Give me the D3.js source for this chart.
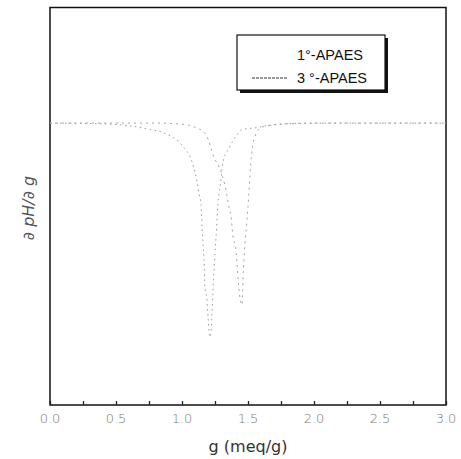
<!DOCTYPE html>
<html><head><meta charset="utf-8">
<script src="https://cdn.jsdelivr.net/npm/d3@7"></script>
<style>body{margin:0;background:#fff}svg{display:block}</style>
</head><body>
<svg id="c" width="461" height="459"></svg>
<script>
// g (meq/g)
const g1 = [0,0.25,0.5,0.76,0.86,1.01,1.06,1.098,1.114,1.129,1.144,1.152,1.159,1.167,1.174,1.189,1.197,1.212,1.22,1.227,1.235,1.242,1.25,1.258,1.265,1.273,1.28,1.295,1.303,1.326,1.341,1.379,1.417,1.455,1.568,1.644,1.87,2.2,3.0];
const d1 = [0,-0.001,-0.005,-0.023,-0.034,-0.084,-0.119,-0.173,-0.208,-0.249,-0.29,-0.368,-0.425,-0.485,-0.581,-0.627,-0.688,-0.759,-0.74,-0.68,-0.592,-0.531,-0.46,-0.404,-0.344,-0.283,-0.254,-0.2,-0.163,-0.112,-0.101,-0.069,-0.041,-0.023,-0.016,-0.009,-0.001,0,0];
const g2 = [0,0.8,1.0,1.1,1.18,1.25,1.265,1.341,1.356,1.371,1.386,1.409,1.417,1.432,1.447,1.455,1.462,1.477,1.485,1.5,1.52,1.55,1.6,1.75,2.0,3.0];
const d2 = [0,0,-0.004,-0.015,-0.04,-0.13,-0.141,-0.258,-0.3,-0.33,-0.4,-0.45,-0.503,-0.592,-0.638,-0.645,-0.554,-0.426,-0.385,-0.297,-0.15,-0.05,-0.015,-0.004,0,0];
const seriesNames = ["1°-APAES", "3 °-APAES"];
const xTicks = [0,0.5,1.0,1.5,2.0,2.5,3.0];
const xMinor = [0.25,0.75,1.25,1.75,2.25,2.75];

const svg = d3.select("#c");
const L = 50, R = 446, T = 7.5, B = 405;
const x = d3.scaleLinear().domain([0,3]).range([L,R]);
const y = d3.scaleLinear().domain([-1,0.41]).range([B,T]);

// frame
svg.append("rect").attr("x",L).attr("y",T).attr("width",R-L).attr("height",B-T)
  .attr("fill","none").attr("stroke","#111").attr("stroke-width",1.5);

// x axis ticks (inward) and labels
const ax = svg.append("g").attr("transform",`translate(0,${B})`)
  .call(d3.axisTop(x).tickValues(xTicks.concat(xMinor)).tickSize(4).tickFormat(""));
ax.select(".domain").remove();
ax.selectAll("line").attr("stroke","#222").attr("stroke-width",1.3);
svg.append("g").selectAll("text").data(xTicks).join("text")
  .attr("x",d=>x(d)).attr("y",423).attr("text-anchor","middle")
  .attr("font-family","DejaVu Sans").attr("font-size",13).attr("font-weight",200)
  .attr("fill","#7a7a7a").text(d=>d.toFixed(1));

// axis titles
svg.append("text").attr("x",(L+R)/2).attr("y",452).attr("text-anchor","middle")
  .attr("font-family","DejaVu Sans").attr("font-size",16).attr("fill","#333").text("g (meq/g)");
svg.append("text").attr("transform","translate(34,208) rotate(-90)").attr("text-anchor","middle")
  .attr("font-family","DejaVu Sans").attr("font-style","italic").attr("font-size",16)
  .attr("fill","#555").text("\u2202 pH/\u2202 g");

// curves
const line = d3.line().x(d=>x(d[0])).y(d=>y(d[1])).curve(d3.curveMonotoneX);
svg.append("path").datum(g1.map((v,i)=>[v,d1[i]])).attr("d",line)
  .attr("fill","none").attr("stroke","#999").attr("stroke-width",1).attr("stroke-dasharray","1.5,3.5");
svg.append("path").datum(g2.map((v,i)=>[v,d2[i]])).attr("d",line)
  .attr("fill","none").attr("stroke","#a5a5a5").attr("stroke-width",1).attr("stroke-dasharray","2,4");

// legend
const lg = svg.append("g");
lg.append("rect").attr("x",240).attr("y",38).attr("width",148).attr("height",55).attr("fill","#111");
lg.append("rect").attr("x",237).attr("y",35).attr("width",148).attr("height",55)
  .attr("fill","#fff").attr("stroke","#111").attr("stroke-width",1.2);
lg.append("line").attr("x1",252).attr("x2",287).attr("y1",56).attr("y2",56)
  .attr("stroke","#f2f2f2").attr("stroke-width",1).attr("stroke-dasharray","1,4");
lg.append("line").attr("x1",252).attr("x2",287).attr("y1",78).attr("y2",78)
  .attr("stroke","#333").attr("stroke-width",1.2).attr("stroke-dasharray","3,1");
lg.selectAll("text.s").data(seriesNames).join("text").attr("class","s")
  .attr("x",297).attr("y",(d,i)=>60+i*22.5)
  .attr("font-family","Liberation Sans").attr("font-size",14.5).attr("fill","#111").text(d=>d);
</script>
</body></html>
